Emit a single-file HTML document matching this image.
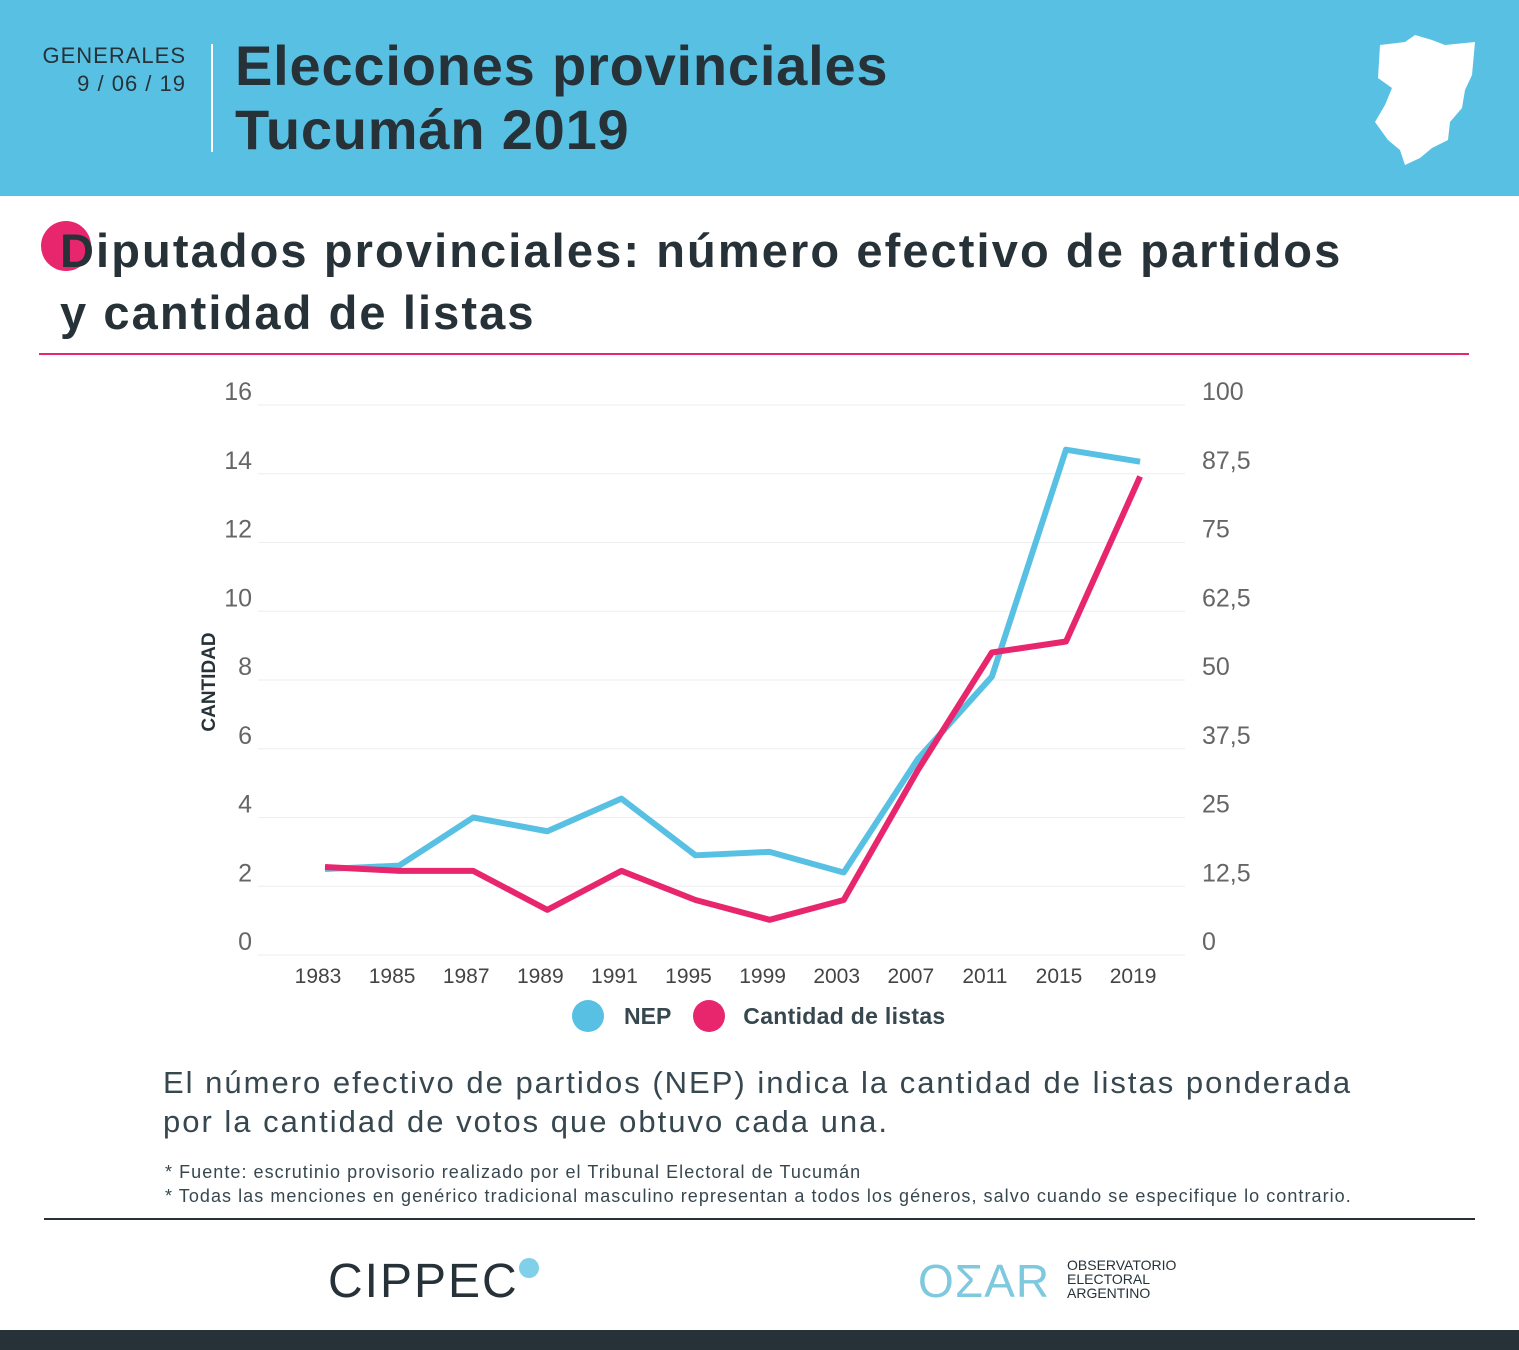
<!DOCTYPE html>
<html><head><meta charset="utf-8"><style>
body{margin:0;width:1519px;height:1350px;background:#fff;font-family:"Liberation Sans",sans-serif;position:relative;overflow:hidden;color:#263238}
.abs{position:absolute}
</style></head><body>
<div class="abs" style="left:0;top:0;width:1519px;height:196px;background:#58c1e3">
 <div class="abs" style="left:40px;top:42px;width:146px;text-align:right;font-size:22px;color:#263238;line-height:28px;letter-spacing:1px">GENERALES<br>9 / 06 / 19</div>
 <div class="abs" style="left:211px;top:44px;width:2px;height:108px;background:#fff"></div>
 <div class="abs" style="left:235px;top:34px;font-size:56px;font-weight:bold;line-height:64px;color:#263238;letter-spacing:0.8px">Elecciones provinciales<br>Tucumán 2019</div>
 <svg class="abs" style="left:1370px;top:30px" width="110" height="140"><path d="M10 15 L35 12 L45 5 L62 10 L75 15 L105 12 L102 45 L95 60 L92 78 L80 92 L78 110 L62 118 L50 128 L35 135 L30 120 L18 110 L5 92 L15 75 L22 58 L8 48 Z" fill="#fff"/></svg>
</div>
<div class="abs" style="left:41px;top:221px;width:50px;height:50px;border-radius:50%;background:#e8266d"></div>
<div class="abs" style="left:60px;top:220px;font-size:47px;font-weight:bold;line-height:62px;color:#263238;letter-spacing:2.1px">Diputados provinciales: número efectivo de partidos<br>y cantidad de listas</div>
<div class="abs" style="left:39px;top:353px;width:1430px;height:2px;background:#e8266d"></div>
<svg class="abs" id="chart" style="left:0;top:0" width="1519" height="1050"></svg>
<div class="abs" style="left:572px;top:1000px;height:32px;font-size:23px;font-weight:bold;color:#37474f;display:flex;align-items:center">
 <span style="width:32px;height:32px;border-radius:50%;background:#58c1e3;display:inline-block;margin-right:20px"></span><span style="margin-right:22px">NEP</span>
 <span style="width:32px;height:32px;border-radius:50%;background:#e8266d;display:inline-block;margin-right:18px"></span><span style="letter-spacing:0.3px">Cantidad de listas</span>
</div>
<div class="abs" style="left:163px;top:1063px;font-size:31px;line-height:39px;color:#37474f;letter-spacing:2px">El número efectivo de partidos (NEP) indica la cantidad de listas ponderada<br>por la cantidad de votos que obtuvo cada una.</div>
<div class="abs" style="left:165px;top:1160px;font-size:18px;line-height:24px;color:#37474f;letter-spacing:1.05px">* Fuente: escrutinio provisorio realizado por el Tribunal Electoral de Tucumán<br>* Todas las menciones en genérico tradicional masculino representan a todos los géneros, salvo cuando se especifique lo contrario.</div>
<div class="abs" style="left:44px;top:1218px;width:1431px;height:2px;background:#263238"></div>
<div class="abs" style="left:328px;top:1254px;font-size:48px;letter-spacing:2px;color:#263238">CIPPEC<span style="display:inline-block;width:20px;height:20px;border-radius:50%;background:#7fd0e8;vertical-align:top;margin-top:4px"></span></div>
<div class="abs" style="left:918px;top:1254px;font-size:46px;color:#7fc9de;letter-spacing:1px">OΣAR</div>
<div class="abs" style="left:1067px;top:1258px;font-size:14px;line-height:14px;color:#263238">OBSERVATORIO<br>ELECTORAL<br>ARGENTINO</div>
<div class="abs" style="left:0;top:1330px;width:1519px;height:20px;background:#263238"></div>
<script>
const years=["1983","1985","1987","1989","1991","1995","1999","2003","2007","2011","2015","2019"];
const nep=[2.5,2.6,4.0,3.6,4.55,2.9,3.0,2.4,5.7,8.1,14.7,14.35];
const listas=[16,15.3,15.3,8.2,15.3,10,6.4,10,33.6,55,57,87];
const leftTicks=["0","2","4","6","8","10","12","14","16"];
const rightTicks=["0","12,5","25","37,5","50","62,5","75","87,5","100"];
const svg=document.getElementById('chart');const NS="http://www.w3.org/2000/svg";
const x0=325,dx=74.1,yB=955,yT=405;
const X=i=>x0+i*dx, YL=v=>yB-(v/16)*(yB-yT), YR=v=>yB-(v/100)*(yB-yT);
function el(t,a){const e=document.createElementNS(NS,t);for(const k in a)e.setAttribute(k,a[k]);svg.appendChild(e);return e;}
leftTicks.forEach((t,i)=>{const y=YL(+t);
 const g=el('line',{x1:258,x2:1185,y1:y,y2:y,stroke:'#eeeeee','stroke-width':1});
 
 const l=el('text',{x:252,y:y-5,'text-anchor':'end','font-size':25,fill:'#666','font-family':'Liberation Sans'});l.textContent=t;
 
 const r=el('text',{x:1202,y:y-5,'font-size':25,fill:'#666','font-family':'Liberation Sans'});r.textContent=rightTicks[i];
 });
years.forEach((t,i)=>{const l=el('text',{x:X(i)-7,y:983,'text-anchor':'middle','font-size':21,fill:'#444','font-family':'Liberation Sans'});l.textContent=t;
 });
const yt=el('text',{x:0,y:0,transform:'translate(215,682) rotate(-90)','text-anchor':'middle','font-size':19,'font-weight':'bold',fill:'#263238','font-family':'Liberation Sans'});yt.textContent='CANTIDAD';

const p1=el('polyline',{points:nep.map((v,i)=>X(i)+','+YL(v)).join(' '),fill:'none',stroke:'#58c1e3','stroke-width':6,'stroke-linejoin':'round'});

const p2=el('polyline',{points:listas.map((v,i)=>X(i)+','+YR(v)).join(' '),fill:'none',stroke:'#e8266d','stroke-width':6,'stroke-linejoin':'round'});

</script>
</body></html>
